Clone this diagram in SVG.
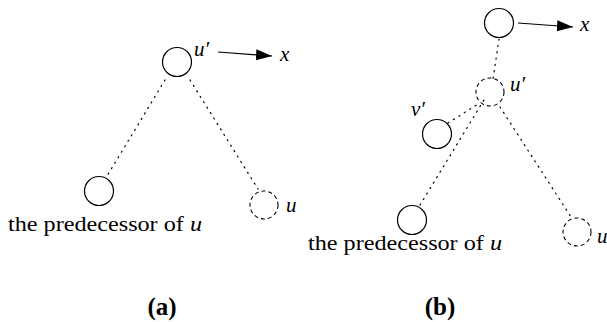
<svg xmlns="http://www.w3.org/2000/svg" width="607" height="322" viewBox="0 0 607 322">
<defs>
<marker id="ah" markerWidth="18" markerHeight="12" refX="16" refY="5.5" orient="auto" markerUnits="userSpaceOnUse">
<path d="M0,0 L16,5.5 L0,11 Z" fill="#000"/>
</marker>
</defs>
<g id="connectors" fill="none" stroke="#000" stroke-width="1.2">
<g stroke-dasharray="1.2 5.2" stroke-linecap="round">
<line x1="165" y1="80" x2="107" y2="176"/>
<line x1="190" y1="80" x2="258" y2="189"/>
<line x1="499" y1="39" x2="493" y2="79"/>
<line x1="448" y1="123" x2="478" y2="104"/>
<line x1="420" y1="205" x2="484" y2="100"/>
<line x1="500" y1="107" x2="571" y2="217"/>
</g>
<line x1="218" y1="52" x2="272" y2="56" marker-end="url(#ah)"/>
<line x1="518" y1="23" x2="573" y2="27" marker-end="url(#ah)"/>
</g>
<g font-family="Liberation Serif" fill="#000">
<g id="a-uprime"><circle fill="none" stroke="#000" stroke-width="1.2" cx="177" cy="62" r="14.5"/><text font-size="21" font-style="italic" x="194" y="56">u′</text></g>
<g id="a-x"><text font-size="21" font-style="italic" x="280" y="61">x</text></g>
<g id="a-pred"><circle fill="none" stroke="#000" stroke-width="1.2" cx="99" cy="191" r="14.5"/><text font-size="20" x="8" y="231" textLength="194" lengthAdjust="spacingAndGlyphs">the predecessor of <tspan font-style="italic">u</tspan></text></g>
<g id="a-u"><circle fill="none" stroke="#000" stroke-width="1.1" stroke-dasharray="4 3" cx="264" cy="205" r="14"/><text font-size="21" font-style="italic" x="286" y="212">u</text></g>
<g id="b-top"><circle fill="none" stroke="#000" stroke-width="1.2" cx="499" cy="23" r="14.5"/></g>
<g id="b-x"><text font-size="21" font-style="italic" x="580" y="31">x</text></g>
<g id="b-uprime"><circle fill="none" stroke="#000" stroke-width="1.1" stroke-dasharray="4 3" cx="490" cy="92" r="14"/><text font-size="21" font-style="italic" x="510" y="91">u′</text></g>
<g id="b-vprime"><circle fill="none" stroke="#000" stroke-width="1.2" cx="437" cy="134" r="14.5"/><text font-size="21" font-style="italic" x="411" y="116">v′</text></g>
<g id="b-pred"><circle fill="none" stroke="#000" stroke-width="1.2" cx="412" cy="220" r="14.5"/><text font-size="20" x="308" y="250" textLength="194" lengthAdjust="spacingAndGlyphs">the predecessor of <tspan font-style="italic">u</tspan></text></g>
<g id="b-u"><circle fill="none" stroke="#000" stroke-width="1.1" stroke-dasharray="4 3" cx="577" cy="232" r="14"/><text font-size="21" font-style="italic" x="597" y="243">u</text></g>
<g id="captions" font-size="25" font-weight="bold" text-anchor="middle"><text x="162" y="315">(a)</text><text x="440" y="315">(b)</text></g>
</g>
</svg>
